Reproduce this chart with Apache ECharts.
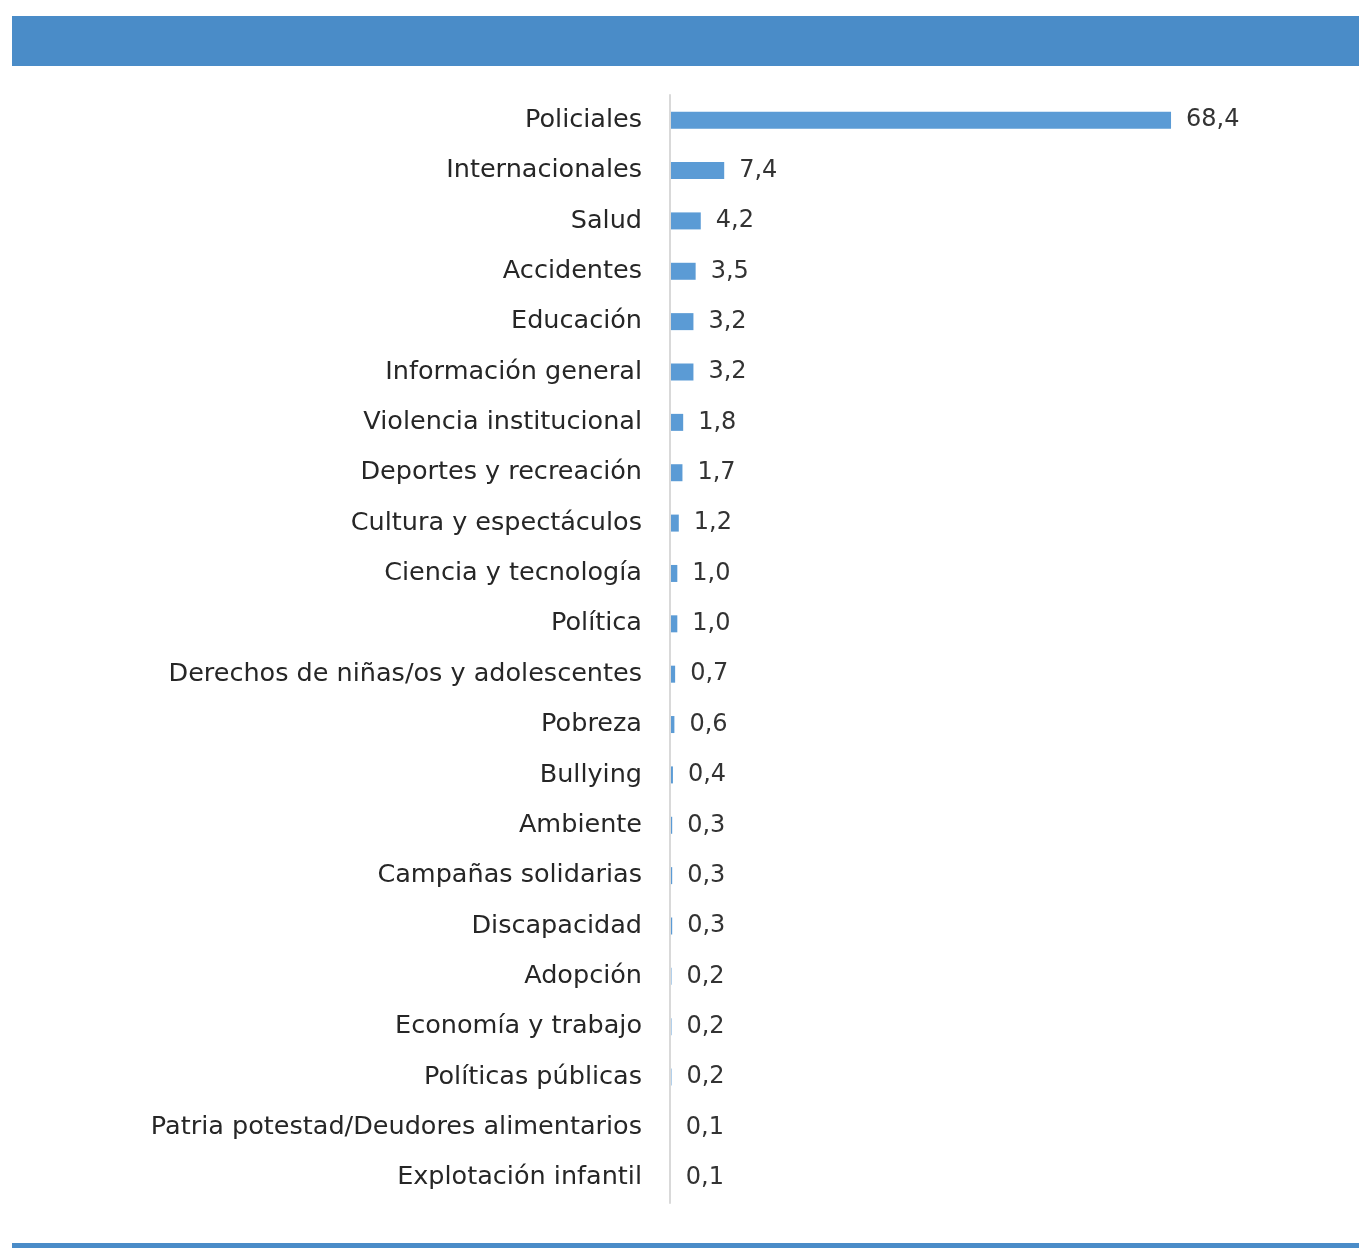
<!DOCTYPE html>
<html><head><meta charset="utf-8">
<script src="https://cdn.jsdelivr.net/npm/echarts@6/dist/echarts.min.js"></script>
<style>html,body{margin:0;padding:0;background:#fff}#c{width:1359px;height:1248px}</style>
</head><body><div id="c"></div>
<script>
const categories = ["Policiales","Internacionales","Salud","Accidentes","Educación","Información general","Violencia institucional","Deportes y recreación","Cultura y espectáculos","Ciencia y tecnología","Política","Derechos de niñas/os y adolescentes","Pobreza","Bullying","Ambiente","Campañas solidarias","Discapacidad","Adopción","Economía y trabajo","Políticas públicas","Patria potestad/Deudores alimentarios","Explotación infantil"];
const values = [68.4,7.4,4.2,3.5,3.2,3.2,1.8,1.7,1.2,1.0,1.0,0.7,0.6,0.4,0.3,0.3,0.3,0.2,0.2,0.2,0.1,0.1];

const font = '"DejaVu Sans", "Noto Sans", sans-serif';
const chart = echarts.init(document.getElementById('c'), null, {renderer:'canvas'});
chart.setOption({
  animation:false,
  backgroundColor:'#ffffff',
  graphic:[
    {type:'rect', shape:{x:12,y:16,width:1347,height:50}, style:{fill:'#4A8CC8'}},
    {type:'rect', shape:{x:12,y:1243,width:1347,height:5}, style:{fill:'#4A8CC8'}}
  ],
  grid:{left:670, top:95, width:586, height:1108, containLabel:false},
  xAxis:{type:'value', min:0, max:80, show:false},
  yAxis:{type:'category', data:categories, inverse:true, z:5,
    axisLine:{show:true, lineStyle:{color:'#d9d9d9', width:2}},
    axisTick:{show:false},
    axisLabel:{color:'#262626', fontSize:25.5, fontFamily:font, margin:28}
  },
  series:[{type:'bar', data:values, barWidth:17, z:2,
    itemStyle:{color:'#5B9BD5'},
    label:{show:true, position:'right', distance:15, color:'#333333', fontSize:24, fontFamily:font,
      formatter:p=>p.value.toFixed(1).replace('.',',')}
  }]
});
</script></body></html>
